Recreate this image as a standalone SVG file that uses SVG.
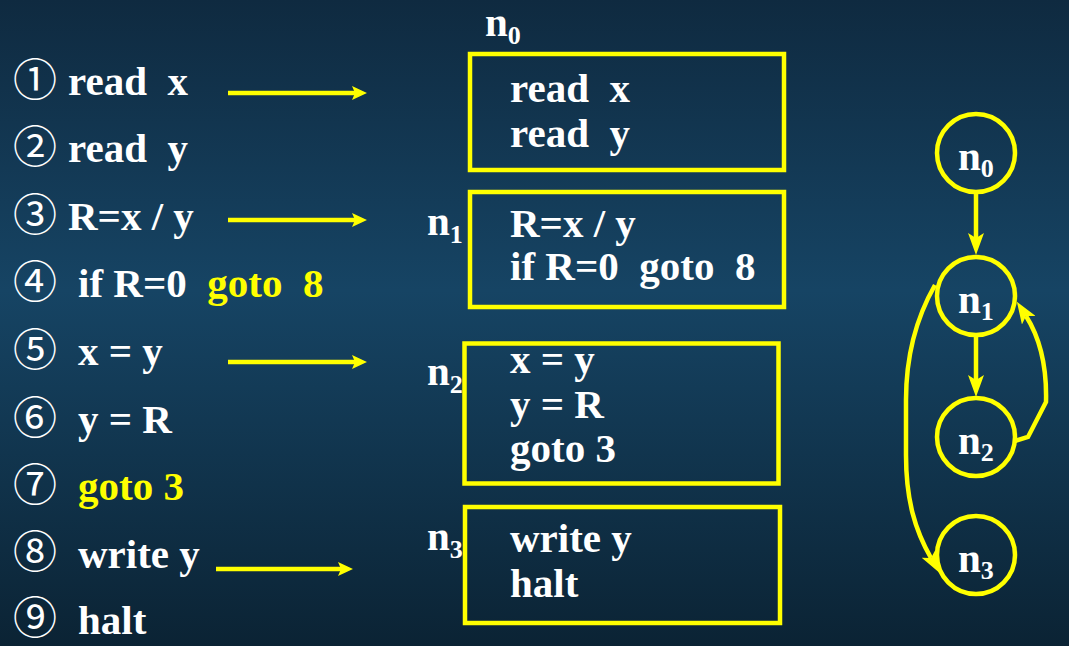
<svg xmlns="http://www.w3.org/2000/svg" width="1069" height="646" viewBox="0 0 1069 646">
<defs>
<linearGradient id="bg" x1="0" y1="0" x2="0" y2="1">
<stop offset="0" stop-color="#0f2a40"/>
<stop offset="0.45" stop-color="#164464"/>
<stop offset="1" stop-color="#0b2334"/>
</linearGradient>
<marker id="ga" markerUnits="userSpaceOnUse" markerWidth="22" markerHeight="16" viewBox="0 0 22 16" refX="5" refY="8" orient="auto">
<path d="M0,0 L22,8 L0,16 L5,8 z" fill="#ffff00"/>
</marker>
<style>
text{font-family:"Liberation Serif","Times New Roman",serif;font-weight:bold;font-size:41px;fill:#fff;white-space:pre}
.num{font-family:"Noto Sans CJK SC","DejaVu Sans",sans-serif;font-weight:normal;font-size:44px}
.y{fill:#ffff00}
.sub{font-size:26px}
.box{fill:none;stroke:#ffff00;stroke-width:4.5}
.node{fill:none;stroke:#ffff00;stroke-width:4.5}
.ln{stroke:#ffff00;stroke-width:4.5;fill:none}
.ge{stroke:#ffff00;stroke-width:4.5;fill:none}
.hd{fill:#ffff00}
</style>
</defs>
<rect width="1069" height="646" fill="url(#bg)"/>

<g id="listing">
<text x="13" y="96" class="num">①</text><text x="68" y="95">read  x</text>
<text x="13" y="163" class="num">②</text><text x="68" y="162">read  y</text>
<text x="13" y="231" class="num">③</text><text x="68" y="230">R=x / y</text>
<text x="13" y="298" class="num">④</text><text x="78" y="297">if R=0  <tspan class="y">goto  8</tspan></text>
<text x="13" y="366" class="num">⑤</text><text x="78" y="365">x = y</text>
<text x="13" y="434" class="num">⑥</text><text x="78" y="433">y = R</text>
<text x="13" y="501" class="num">⑦</text><text x="78" y="500" class="y">goto 3</text>
<text x="13" y="568" class="num">⑧</text><text x="78" y="568">write y</text>
<text x="13" y="634" class="num">⑨</text><text x="78" y="634">halt</text>
</g>

<g id="map-arrows">
<line class="ln" x1="228" y1="93" x2="356" y2="93"/><path class="hd" d="M352,86 L367,93 L352,100 L355,93 z"/>
<line class="ln" x1="228" y1="220" x2="356" y2="220"/><path class="hd" d="M352,213 L367,220 L352,227 L355,220 z"/>
<line class="ln" x1="228" y1="362" x2="356" y2="362"/><path class="hd" d="M352,355 L367,362 L352,369 L355,362 z"/>
<line class="ln" x1="216" y1="569" x2="342" y2="569"/><path class="hd" d="M338,562 L353,569 L338,576 L341,569 z"/>
</g>

<g id="block-n0">
<text x="485" y="36">n<tspan class="sub" dy="8">0</tspan></text>
<rect class="box" x="470" y="54" width="314" height="116"/>
<text x="510" y="102">read  x</text>
<text x="510" y="147">read  y</text>
</g>
<g id="block-n1">
<text x="427" y="235">n<tspan class="sub" dy="8">1</tspan></text>
<rect class="box" x="470" y="192" width="314" height="115"/>
<text x="510" y="237">R=x / y</text>
<text x="510" y="280">if R=0  goto  8</text>
</g>
<g id="block-n2">
<text x="427" y="385">n<tspan class="sub" dy="8">2</tspan></text>
<rect class="box" x="464.5" y="343.5" width="314" height="140"/>
<text x="510" y="373">x = y</text>
<text x="510" y="418">y = R</text>
<text x="510" y="462">goto 3</text>
</g>
<g id="block-n3">
<text x="427" y="550">n<tspan class="sub" dy="8">3</tspan></text>
<rect class="box" x="465" y="507" width="315" height="116"/>
<text x="510" y="552">write y</text>
<text x="510" y="597">halt</text>
</g>

<g id="connectors">
<line class="ge" x1="976" y1="192" x2="976" y2="238" marker-end="url(#ga)"/>
<line class="ge" x1="976" y1="335" x2="976" y2="380" marker-end="url(#ga)"/>
<path class="ge" d="M1015,441 L1028,437 L1046,402 C1047,365 1040,338 1026,316" marker-end="url(#ga)"/>
<path class="ge" d="M935,285 C915,320 906,360 906,400 L906,455 C906,500 915,530 931,558" marker-end="url(#ga)"/>
</g>

<g id="node-n0">
<circle class="node" cx="976" cy="153" r="39"/>
<text x="958" y="170">n<tspan class="sub" dy="7">0</tspan></text>
</g>
<g id="node-n1">
<circle class="node" cx="976" cy="296" r="39"/>
<text x="958" y="313">n<tspan class="sub" dy="7">1</tspan></text>
</g>
<g id="node-n2">
<circle class="node" cx="976" cy="437" r="39"/>
<text x="958" y="454">n<tspan class="sub" dy="7">2</tspan></text>
</g>
<g id="node-n3">
<circle class="node" cx="976" cy="555" r="39"/>
<text x="958" y="572">n<tspan class="sub" dy="7">3</tspan></text>
</g>
</svg>
